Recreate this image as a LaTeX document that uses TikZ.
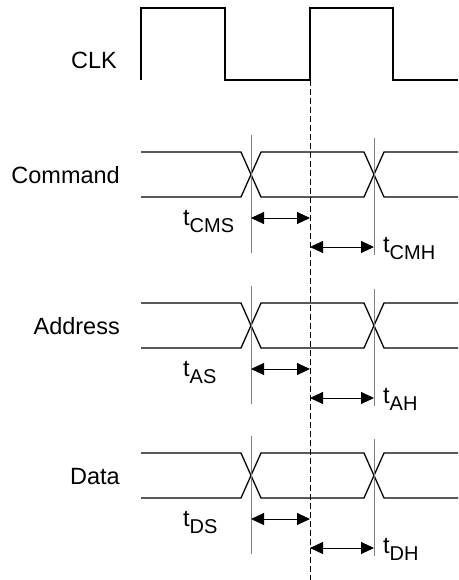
\documentclass[tikz,border=0pt]{standalone}
\usepackage{fontspec}
\setmainfont{Liberation Sans}
\usetikzlibrary{arrows.meta}
\usetikzlibrary{positioning}
\tikzset{
    signal/.style = {line width=1.3pt, black},
    repere/.style = {line width=0.9pt, gray},
    horloge/.style = {dash pattern=on 6pt off 3pt, line width=0.9pt},
    cote/.style = {<->, line width=0.9pt},
    nomsig/.style = {anchor=base east, inner sep=0pt, font=\fontsize{23.5}{27}\selectfont},
    temps/.style = {anchor=base west, inner sep=0pt, font=\fontsize{23.5}{27}\selectfont},
    >={Triangle[length=13pt,width=12pt]}
}
\newcommand{\tind}[1]{t{\fontsize{20}{22}\selectfont\raisebox{-7pt}{#1}}}

\begin{document}
\begin{tikzpicture}[x=1pt, y=-1pt]
    \useasboundingbox (0,0) rectangle (458,580);
    % horloge
    \node (clk) [nomsig] at (117,69) {CLK};
    \draw[signal] (141,80) -- (141,8) -- (225,8) -- (225,80) -- (310,80)
        -- (310,8) -- (393,8) -- (393,80) -- (458,80);
    \coordinate (front) at (310,80);
    \coordinate (bas) at (310,580);
    \draw[horloge] (front) -- (bas);
    % bus
    \foreach \y/\lab/\su/\ho in {152/Command/CMS/CMH, 303/Address/AS/AH, 453/Data/DS/DH} {
        \node (\lab) [nomsig] at (120,\y+31) {\lab};
        \draw[signal] (141,\y) -- (241,\y) -- (261,\y+45) -- (364,\y+45) -- (384,\y) -- (458,\y);
        \draw[signal] (141,\y+45) -- (241,\y+45) -- (261,\y) -- (364,\y) -- (384,\y+45) -- (458,\y+45);
        \draw[repere] (251,\y-17) -- (251,\y+101);
        \draw[repere] (374,\y-14) -- (374,\y+103);
        \coordinate (s\lab) at (251,\y+66);
        \coordinate (c\lab) at (310,\y+66);
        \coordinate (d\lab) at (310,\y+95);
        \coordinate (h\lab) at (374,\y+95);
        \draw[cote] (s\lab) -- (c\lab);
        \draw[cote] (d\lab) -- (h\lab);
        \node (ts\lab) [temps] at (183,\y+73) {\tind{\su}};
        \node (th\lab) [temps] at (383,\y+100) {\tind{\ho}};
    }
\end{tikzpicture}
\end{document}
